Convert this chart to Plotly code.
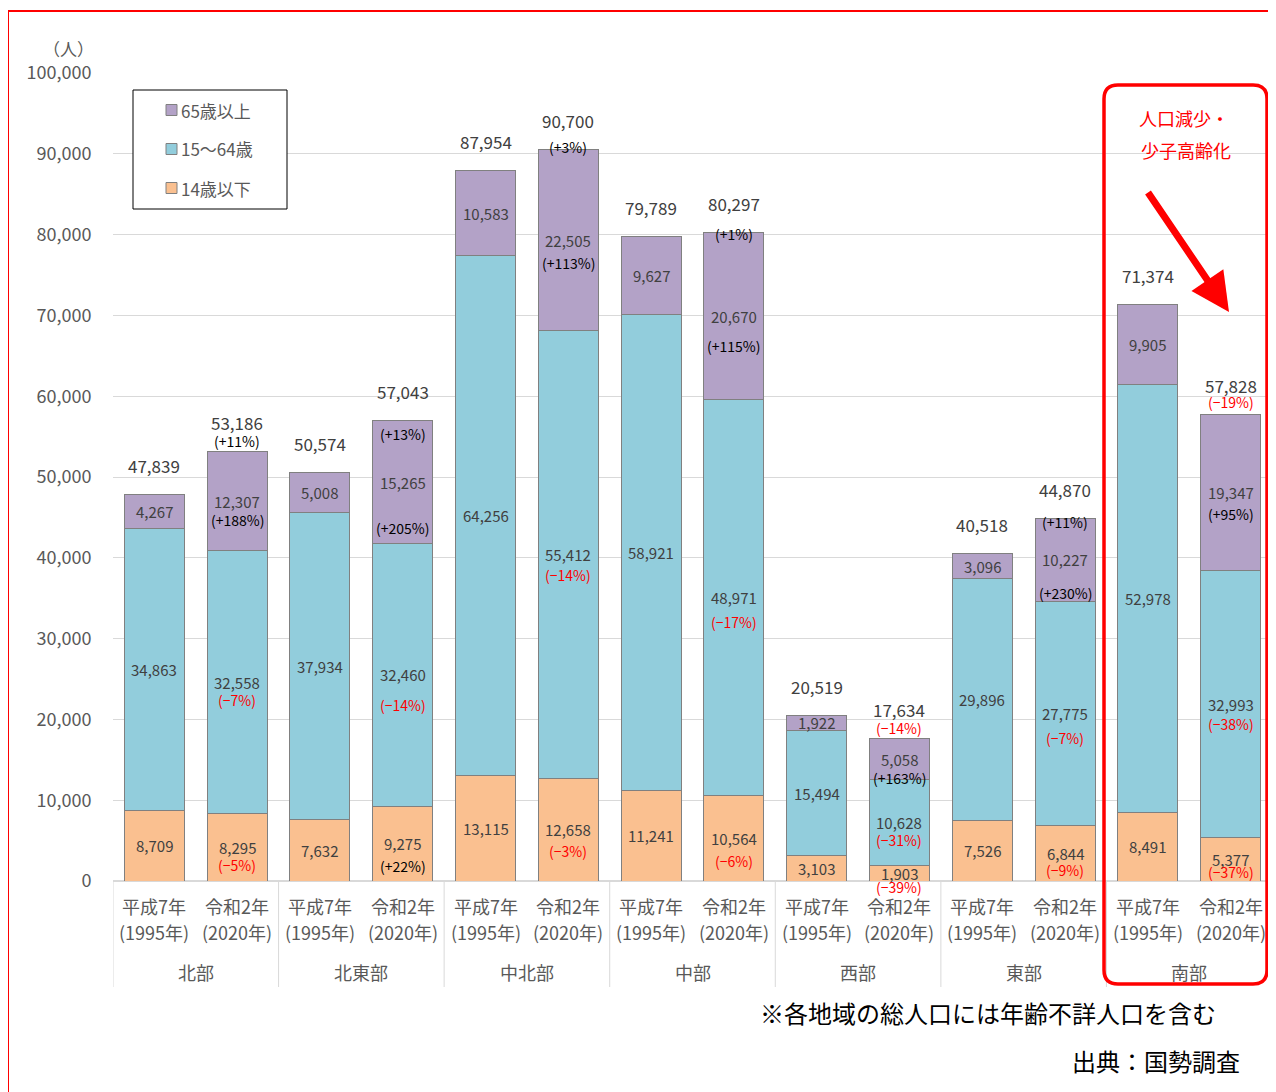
import plotly.graph_objects as go

# ---------------- data ----------------
regions = ["北部", "北東部", "中北部", "中部", "西部", "東部", "南部"]
years_jp = ["平成7年", "令和2年"]
years_ad = ["(1995年)", "(2020年)"]
legend_names = ["65歳以上", "15〜64歳", "14歳以下"]

age14 = [8709, 8295, 7632, 9275, 13115, 12658, 11241, 10564, 3103, 1903, 7526, 6844, 8491, 5377]
age15_64 = [34863, 32558, 37934, 32460, 64256, 55412, 58921, 48971, 15494, 10628, 29896, 27775, 52978, 32993]
age65 = [4267, 12307, 5008, 15265, 10583, 22505, 9627, 20670, 1922, 5058, 3096, 10227, 9905, 19347]
totals = [47839, 53186, 50574, 57043, 87954, 90700, 79789, 80297, 20519, 17634, 40518, 44870, 71374, 57828]

# change rates 1995 -> 2020 (%), per region
chg_total = [11, 13, 3, 1, -14, 11, -19]
chg_65 = [188, 205, 113, 115, 163, 230, 95]
chg_15_64 = [-7, -14, -14, -17, -31, -7, -38]
chg_14 = [-5, 22, -3, -6, -39, -9, -37]

# ---------------- styles / label offsets (px) ----------------
C65, C1564, C14 = "#b3a2c7", "#92cddc", "#fac090"
NUM_COLOR = "#404040"
AX_COLOR = "#595959"
FONT = "Noto Sans CJK JP"
total_pct_shift = [10, -14, 2, -1, 11, -3, 13]
pct65_gap = [19, 46, 23, 30, 19, 33, 21]
pct1564_gap = [18, 30, 20, 24, 17, 25, 20]
pct14_gap = [18, 22, 21, 23, 14, 17, 13]

# page is offset by the default 8px body margin
OFF = 8
PAGE_W, PAGE_H = 1276, 1092
W, H = PAGE_W - OFF, PAGE_H - OFF
# plot area in page (screen) pixels
L, R, T, B = 113, 1272, 73, 881


def px_x(p):
    return (p - L) / (R - L)


def px_y(p):
    return (B - p) / (B - T)


xs = list(range(len(totals)))

fig = go.Figure()
for name, vals, col in [("14歳以下", age14, C14), ("15〜64歳", age15_64, C1564), ("65歳以上", age65, C65)]:
    fig.add_trace(go.Bar(
        x=xs, y=vals, name=name,
        marker=dict(color=col, line=dict(color="#808080", width=1)),
        showlegend=False, hoverinfo="skip",
    ))

ann = []


def A(**kw):
    kw.setdefault("showarrow", False)
    kw.setdefault("xanchor", "center")
    kw.setdefault("yanchor", "middle")
    ann.append(kw)


def fmt_pct(v):
    return ("(+%d%%)" % v) if v >= 0 else ("(−%d%%)" % abs(v))


def pct_color(v):
    return "#000000" if v >= 0 else "#ff0000"


for i in xs:
    a, b, c = age14[i], age15_64[i], age65[i]
    top = a + b + c
    mids = [a / 2, a + b / 2, a + b + c / 2]
    for val, m in zip([a, b, c], mids):
        A(x=i, y=m, xref="x", yref="y", text=f"{val:,}",
          font=dict(size=15, color=NUM_COLOR, family=FONT))
    A(x=i, y=top, xref="x", yref="y", text=f"{totals[i]:,}", yshift=29,
      font=dict(size=17, color=NUM_COLOR, family=FONT))
    if i % 2 == 1:
        g = i // 2
        for v, m, gap in [(chg_14[g], mids[0], pct14_gap[g]),
                          (chg_15_64[g], mids[1], pct1564_gap[g]),
                          (chg_65[g], mids[2], pct65_gap[g])]:
            A(x=i, y=m, xref="x", yref="y", text=fmt_pct(v), yshift=-gap,
              font=dict(size=14, color=pct_color(v), family=FONT))
        A(x=i, y=top, xref="x", yref="y", text=fmt_pct(chg_total[g]), yshift=total_pct_shift[g],
          font=dict(size=14, color=pct_color(chg_total[g]), family=FONT))

# category labels
for i in xs:
    A(x=i, y=px_y(906), xref="x", yref="paper", text=years_jp[i % 2],
      font=dict(size=18, color=AX_COLOR, family=FONT))
    A(x=i, y=px_y(932), xref="x", yref="paper", text=years_ad[i % 2],
      font=dict(size=18, color=AX_COLOR, family=FONT))
for g, r in enumerate(regions):
    A(x=2 * g + 0.5, y=px_y(972), xref="x", yref="paper", text=r,
      font=dict(size=18, color=AX_COLOR, family=FONT))

shapes = []
for k in range(len(regions) + 1):
    shapes.append(dict(type="line", xref="x", yref="paper", x0=2 * k - 0.5, x1=2 * k - 0.5,
                       y0=0, y1=px_y(987), line=dict(color="#d9d9d9", width=1)))

# unit label
A(x=px_x(68), y=px_y(49), xref="paper", yref="paper", text="（人）",
  font=dict(size=17, color=AX_COLOR, family=FONT))

# manual legend
shapes.append(dict(type="rect", xref="paper", yref="paper", x0=px_x(133), x1=px_x(287),
                   y0=px_y(209), y1=px_y(90), line=dict(color="#000000", width=1), fillcolor="white",
                   layer="above"))
for name, col, cy in zip(legend_names, [C65, C1564, C14], [110, 149, 188]):
    shapes.append(dict(type="rect", xref="paper", yref="paper", x0=px_x(166), x1=px_x(177),
                       y0=px_y(cy + 5.5), y1=px_y(cy - 5.5), fillcolor=col,
                       line=dict(color="#808080", width=1), layer="above"))
    A(x=px_x(179), y=px_y(cy), xref="paper", yref="paper", text=name, xanchor="left",
      font=dict(size=17, color=AX_COLOR, family=FONT))

# red outer frame
shapes.append(dict(type="rect", xref="paper", yref="paper", x0=px_x(8), x1=px_x(1300),
                   y0=px_y(1110), y1=px_y(11), line=dict(color="#ff0000", width=2), layer="above"))

# rounded red box around 南部
x0p, x1p, y0p, y1p, rr = 1104, 1267, 85, 984, 14
pts = [
    ("M", x0p + rr, y0p), ("L", x1p - rr, y0p), ("Q", x1p, y0p, x1p, y0p + rr),
    ("L", x1p, y1p - rr), ("Q", x1p, y1p, x1p - rr, y1p),
    ("L", x0p + rr, y1p), ("Q", x0p, y1p, x0p, y1p - rr),
    ("L", x0p, y0p + rr), ("Q", x0p, y0p, x0p + rr, y0p),
]
path = ""
for p in pts:
    cmd = p[0]
    coords = p[1:]
    segs = []
    for j in range(0, len(coords), 2):
        segs.append(f"{px_x(coords[j]):.5f},{px_y(coords[j+1]):.5f}")
    path += cmd + " " + " ".join(segs) + " "
shapes.append(dict(type="path", xref="paper", yref="paper", path=path + "Z",
                   line=dict(color="#ff0000", width=3.5), layer="above"))

# red annotation text and arrow
A(x=px_x(1184), y=px_y(118), xref="paper", yref="paper", text="人口減少・",
  font=dict(size=18, color="#ff0000", family=FONT))
A(x=px_x(1186), y=px_y(150), xref="paper", yref="paper", text="少子高齢化",
  font=dict(size=18, color="#ff0000", family=FONT))
ann.append(dict(x=px_x(1229), y=px_y(312), xref="paper", yref="paper", text="", showarrow=True,
                ax=-82, ay=-121, arrowhead=2, arrowsize=1.1, arrowwidth=7, arrowcolor="#ff0000",
                standoff=0))

# footnotes
A(x=px_x(1218), y=px_y(1013), xref="paper", yref="paper",
  text="※各地域の総人口には年齢不詳人口を含む", xanchor="right",
  font=dict(size=24, color="#000000", family=FONT))
A(x=px_x(1242), y=px_y(1060), xref="paper", yref="paper",
  text="出典：国勢調査", xanchor="right",
  font=dict(size=24, color="#000000", family=FONT))

fig.update_layout(
    width=W, height=H,
    margin=dict(l=L - OFF, r=PAGE_W - R, t=T - OFF, b=PAGE_H - B, autoexpand=False),
    paper_bgcolor="white", plot_bgcolor="white",
    barmode="stack", bargap=0.275,
    font=dict(family=FONT, color=AX_COLOR),
    xaxis=dict(range=[-0.5, len(xs) - 0.5], showticklabels=False, showgrid=False,
               zeroline=False, showline=False, ticks=""),
    yaxis=dict(range=[0, 100000], tickvals=list(range(0, 100001, 10000)), tickformat=",",
               showgrid=True, gridcolor="#d9d9d9", gridwidth=1, zeroline=True, zerolinecolor="#d9d9d9",
               showline=False, ticks="outside", ticklen=17, tickcolor="rgba(0,0,0,0)",
               tickfont=dict(size=18, color=AX_COLOR, family=FONT)),
    annotations=ann, shapes=shapes,
)

fig.write_html("out.html")
